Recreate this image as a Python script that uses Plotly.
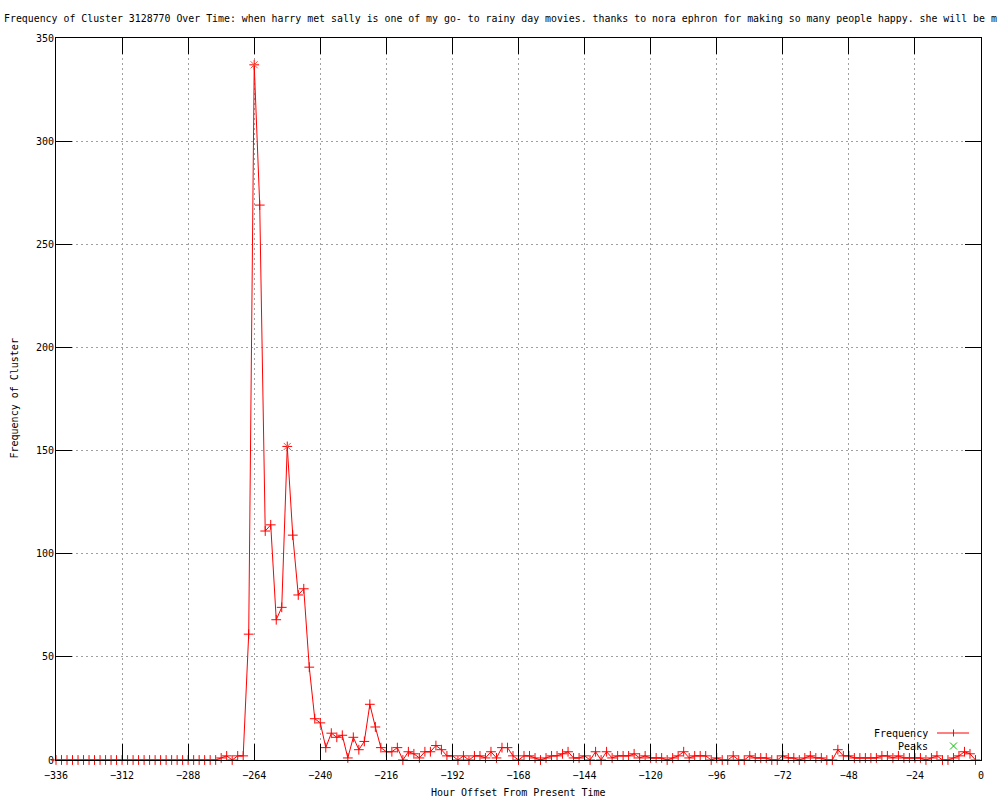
import plotly.graph_objects as go

# hour offsets, one sample every 2 hours (-336 .. -2)
hours = list(range(-336, 0, 2))

frequency = [
    0, 0, 0, 0, 0, 0, 0, 0, 0, 0,            # -336 .. -318
    0, 0, 0, 0, 0, 0, 0, 0, 0, 0,            # -316 .. -298
    0, 0, 0, 0, 0, 0, 0, 0, 0, 0,            # -296 .. -278
    1, 2, 0, 2, 2, 61, 337, 269, 111, 114,   # -276 .. -258
    68, 74, 152, 109, 80, 83, 45, 20, 18, 6, # -256 .. -238
    13, 11, 12, 1, 11, 5, 9, 27, 16, 6,      # -236 .. -218
    4, 4, 6, 0, 4, 3, 1, 4, 4, 7,            # -216 .. -198
    5, 2, 2, 0, 2, 0, 2, 2, 1, 4,            # -196 .. -178
    1, 6, 6, 2, 0, 2, 2, 1, 0, 1,            # -176 .. -158
    2, 2, 3, 4, 1, 1, 2, 0, 4, 0,            # -156 .. -138
    4, 1, 2, 2, 2, 3, 1, 2, 1, 1,            # -136 .. -118
    1, 0, 1, 2, 4, 1, 2, 2, 2, 0,            # -116 .. -98
    1, 0, 0, 2, 0, 0, 2, 1, 1, 1,            # -96 .. -78
    0, 0, 2, 1, 1, 0, 1, 2, 1, 1,            # -76 .. -58
    0, 0, 5, 2, 2, 1, 1, 1, 1, 1,            # -56 .. -38
    2, 2, 1, 2, 1, 1, 1, 1, 0, 1,            # -36 .. -18
    2, 0, 0, 1, 2, 4, 3, 0,                  # -16 .. -2
]
assert len(hours) == len(frequency)

peak_hours = [-264, -252]
peak_values = [337, 152]

x_ticks = list(range(-336, 1, 24))
y_ticks = list(range(0, 351, 50))

TITLE = ('Frequency of Cluster 3128770 Over Time: when harry met sally is one of my go- '
         'to rainy day movies. thanks to nora ephron for making so many people happy. she will be m')

FONT = 'DejaVu Sans Mono'
RED = '#ff0000'
GREEN = '#00c000'

# plot area in pixels
L, R, T, B = 56, 981, 38, 760


def px(x):
    return (x - L) / (R - L)


def py(y):
    return (B - y) / (B - T)


fig = go.Figure()
fig.add_trace(go.Scatter(
    x=hours, y=frequency,
    mode='lines+markers',
    line=dict(color=RED, width=1),
    marker=dict(symbol='cross-thin-open', size=7, line=dict(color=RED, width=1)),
    name='Frequency',
    cliponaxis=False,
    showlegend=False,
))
fig.add_trace(go.Scatter(
    x=peak_hours, y=peak_values,
    mode='markers',
    marker=dict(symbol='x-thin-open', size=7, line=dict(color=GREEN, width=1)),
    name='Peaks',
    cliponaxis=False,
    showlegend=False,
))

axis_style = dict(
    showline=True, linecolor='black', linewidth=1, mirror='ticks',
    ticks='inside', ticklen=16, tickwidth=1, tickcolor='black',
    showgrid=True, gridcolor='#a0a0a0', gridwidth=1, griddash='2px,3px',
    zeroline=False,
    tickfont=dict(family=FONT, size=10, color='black'),
)

fig.update_xaxes(range=[-336, 0], tickvals=x_ticks, ticklabelstandoff=6, **axis_style)
fig.update_yaxes(range=[0, 350], tickvals=y_ticks, ticklabelstandoff=-1, **axis_style)

annotations = [
    dict(text=TITLE, x=px(2), y=py(19), xanchor='left', yanchor='middle', size=9.9),
    dict(text='Hour Offset From Present Time', x=0.5, y=py(792), xanchor='center', yanchor='middle'),
    dict(text='Frequency of Cluster', x=px(13.5), y=0.5, textangle=-90, xanchor='center', yanchor='middle'),
    dict(text='Frequency', x=px(930), y=py(733), xanchor='right', yanchor='middle'),
    dict(text='Peaks', x=px(930), y=py(746), xanchor='right', yanchor='middle'),
]
for a in annotations:
    size = a.pop('size', 10)
    a.update(xref='paper', yref='paper', showarrow=False,
             font=dict(family=FONT, size=size, color='black'))

# legend keys (gnuplot style: label left, sample right)
shapes = [
    dict(x0=px(937), x1=px(969), y0=py(733), y1=py(733), line=dict(color=RED, width=1)),
    dict(x0=px(953.5), x1=px(953.5), y0=py(729.5), y1=py(736.5), line=dict(color=RED, width=1)),
    dict(x0=px(950), x1=px(957), y0=py(742.5), y1=py(749.5), line=dict(color=GREEN, width=1)),
    dict(x0=px(950), x1=px(957), y0=py(749.5), y1=py(742.5), line=dict(color=GREEN, width=1)),
]
for s in shapes:
    s.update(type='line', xref='paper', yref='paper')

fig.update_layout(
    width=1000, height=800,
    margin=dict(l=L, r=1000 - R, t=T, b=800 - B),
    plot_bgcolor='white', paper_bgcolor='white',
    font=dict(family=FONT, size=10, color='black'),
    annotations=annotations,
    shapes=shapes,
    showlegend=False,
)

# drop the default page margin so the figure sits at the window's top-left corner
fig.write_html('out.html', config={'displayModeBar': False},
               post_script="document.body.style.margin='0px';")
